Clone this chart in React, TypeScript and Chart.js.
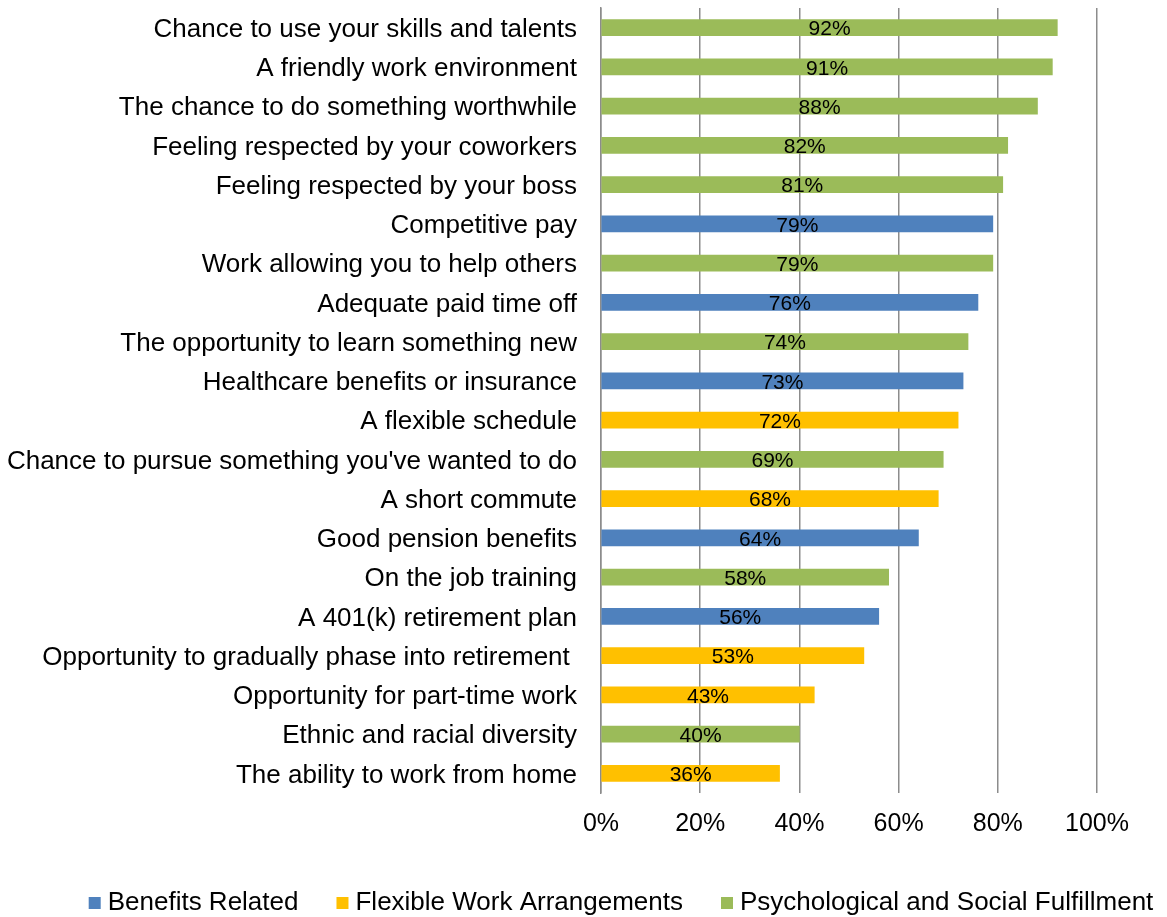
import React, { useEffect, useRef } from "react";
import { Chart, registerables } from "chart.js";

Chart.register(...registerables);

const categories = [
  "Chance to use your skills and talents",
  "A friendly work environment",
  "The chance to do something worthwhile",
  "Feeling respected by your coworkers",
  "Feeling respected by your boss",
  "Competitive pay",
  "Work allowing you to help others",
  "Adequate paid time off",
  "The opportunity to learn something new",
  "Healthcare benefits or insurance",
  "A flexible schedule",
  "Chance to pursue something you've wanted to do",
  "A short commute",
  "Good pension benefits",
  "On the job training",
  "A 401(k) retirement plan",
  "Opportunity to gradually phase into retirement ",
  "Opportunity for part-time work",
  "Ethnic and racial diversity",
  "The ability to work from home",
];

const values = [92, 91, 88, 82, 81, 79, 79, 76, 74, 73, 72, 69, 68, 64, 58, 56, 53, 43, 40, 36];

// B = Benefits Related, F = Flexible Work Arrangements, P = Psychological and Social Fulfillment
const groups = ["P", "P", "P", "P", "P", "B", "P", "B", "P", "B", "F", "P", "F", "B", "P", "B", "F", "F", "P", "F"];

const seriesKeys = ["B", "F", "P"];
const seriesNames = ["Benefits Related", "Flexible Work Arrangements", "Psychological and Social Fulfillment"];
const seriesColors = ["#4F81BD", "#FFC000", "#9BBB59"];

const xTicks = [0, 20, 40, 60, 80, 100];

const FONT = "'Liberation Sans', Arial, sans-serif";

const dataLabelPlugin = {
  id: "dataLabels",
  afterDatasetsDraw(chart: any) {
    const ctx = chart.ctx;
    ctx.save();
    ctx.font = `21px ${FONT}`;
    ctx.fillStyle = "#000";
    ctx.textAlign = "center";
    ctx.textBaseline = "middle";
    chart.data.datasets.forEach((ds: any, di: number) => {
      const meta = chart.getDatasetMeta(di);
      meta.data.forEach((el: any, i: number) => {
        const v = ds.data[i];
        if (v === null || v === undefined) return;
        const cx = (el.x + el.base) / 2;
        ctx.fillText(`${v}%`, cx, el.y + 2);
      });
    });
    ctx.restore();
  },
};

const legendPlugin = {
  id: "customLegend",
  afterDraw(chart: any) {
    const ctx = chart.ctx;
    ctx.save();
    ctx.font = `26px ${FONT}`;
    ctx.textBaseline = "middle";
    ctx.textAlign = "left";
    const box = 12;
    const gapText = 7;
    const gapItem = 38;
    const items = chart.data.datasets.map((ds: any) => ({
      label: ds.label,
      color: ds.backgroundColor,
      w: box + gapText + ctx.measureText(ds.label).width,
    }));
    const total = items.reduce((s: number, it: any) => s + it.w, 0) + gapItem * (items.length - 1);
    const center = 621;
    const cy = 903;
    let x = center - total / 2;
    items.forEach((it: any) => {
      ctx.fillStyle = it.color;
      ctx.fillRect(x, cy - box / 2, box, box);
      ctx.fillStyle = "#000";
      ctx.fillText(it.label, x + box + gapText, cy);
      x += it.w + gapItem;
    });
    ctx.restore();
  },
};

export default function App() {
  const ref = useRef<HTMLCanvasElement | null>(null);

  useEffect(() => {
    if (!ref.current) return;
    const datasets = seriesKeys.map((key, si) => ({
      label: seriesNames[si],
      data: values.map((v, i) => (groups[i] === key ? v : null)),
      backgroundColor: seriesColors[si],
      borderWidth: 0,
      barThickness: 16,
    }));

    const chart = new Chart(ref.current, {
      type: "bar",
      data: { labels: categories, datasets },
      options: {
        indexAxis: "y",
        animation: false,
        responsive: false,
        maintainAspectRatio: false,
        layout: { padding: { top: 8, right: 70, bottom: 62, left: 0 } },
        plugins: {
          legend: { display: false },
          tooltip: { enabled: false },
        },
        scales: {
          x: {
            stacked: true,
            min: 0,
            max: 100,
            afterBuildTicks(scale: any) {
              scale.ticks = xTicks.map((v) => ({ value: v }));
            },
            afterFit(scale: any) {
              scale.paddingLeft = 0;
            },
            ticks: {
              callback: (v: any) => `${v}%`,
              font: { family: FONT, size: 25 },
              color: "#000",
              padding: 16,
              maxRotation: 0,
            },
            grid: { color: "#8c8c8c", lineWidth: 1.5, drawTicks: false },
            border: { display: false },
          },
          y: {
            stacked: true,
            afterFit(scale: any) {
              scale.width = 601;
              scale.paddingTop = 0;
              scale.paddingBottom = 0;
            },
            ticks: {
              font: { family: FONT, size: 26 },
              color: "#000",
              padding: 24,
              labelOffset: 2,
              autoSkip: false,
            },
            grid: { display: false, drawTicks: false },
            border: { display: true, color: "#8c8c8c", width: 1.5 },
          },
        },
      },
      plugins: [dataLabelPlugin, legendPlugin],
    });
    return () => chart.destroy();
  }, []);

  return (
    <div style={{ position: "absolute", left: 0, top: 0, width: 1167, height: 917, background: "#fff" }}>
      <canvas ref={ref} width={1167} height={917} style={{ width: 1167, height: 917, display: "block" }} />
    </div>
  );
}
